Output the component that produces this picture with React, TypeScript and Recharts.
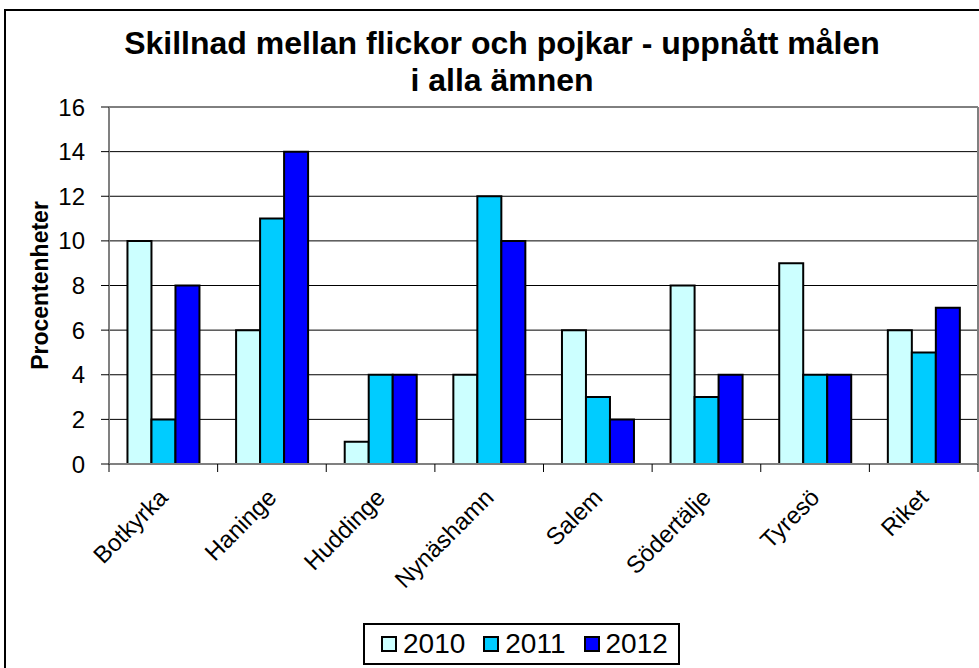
import React from "react";
import { BarChart, Bar, XAxis, YAxis, CartesianGrid } from "recharts";

const categories = ["Botkyrka", "Haninge", "Huddinge", "Nynäshamn", "Salem", "Södertälje", "Tyresö", "Riket"];
const v2010 = [10, 6, 1, 4, 6, 8, 9, 6];
const v2011 = [2, 11, 4, 12, 3, 3, 4, 5];
const v2012 = [8, 14, 4, 10, 2, 4, 4, 7];
const yTicks = [0, 2, 4, 6, 8, 10, 12, 14, 16];

const series = [
  { key: "y2010", name: "2010", fill: "#CCFFFF", values: v2010 },
  { key: "y2011", name: "2011", fill: "#00CCFF", values: v2011 },
  { key: "y2012", name: "2012", fill: "#0000FF", values: v2012 },
];

const data = categories.map((c, i) => {
  const row: Record<string, string | number> = { name: c };
  series.forEach((s) => (row[s.key] = s.values[i]));
  return row;
});

const W = 979;
const H = 668;
const FONT = "'Liberation Sans', Arial, sans-serif";

// etikett roterad -45°, tickmarkering mellan kategorierna (som i Excel)
function CatTick(props: any) {
  const { x, y, payload, index, width } = props;
  const band = (width || 869) / categories.length;
  const left = x - band / 2;
  const right = x + band / 2;
  const tx = x + 6;
  const ty = y + 35;
  return (
    <g>
      <line x1={left} y1={y} x2={left} y2={y + 8} stroke="#000" strokeWidth={1} />
      {index === categories.length - 1 && (
        <line x1={right} y1={y} x2={right} y2={y + 8} stroke="#000" strokeWidth={1} />
      )}
      <text
        x={tx}
        y={ty}
        textAnchor="end"
        fontSize={24}
        fontFamily={FONT}
        fill="#000"
        transform={`rotate(-45 ${tx} ${ty})`}
      >
        {payload.value}
      </text>
    </g>
  );
}

export default function App() {
  return (
    <div style={{ position: "fixed", left: 0, top: 0, width: W, height: H, background: "#fff", overflow: "hidden", fontFamily: FONT }}>
      <div style={{ position: "absolute", left: 4, top: 9, width: W + 10, height: H + 10, border: "2px solid #000", boxSizing: "border-box" }} />
      <div
        style={{
          position: "absolute", left: 0, top: 25, width: 1004, textAlign: "center",
          fontWeight: "bold", fontSize: 32, lineHeight: "37px", color: "#000",
        }}
      >
        Skillnad mellan flickor och pojkar - uppnått målen
        <br />
        i alla ämnen
      </div>

      <BarChart
        width={W}
        height={H}
        data={data}
        margin={{ top: 107, right: 0, bottom: 104, left: 0 }}
        barCategoryGap="17%"
        barGap={0}
      >
        <CartesianGrid vertical={false} stroke="#000" strokeWidth={1} />
        <XAxis
          dataKey="name"
          interval={0}
          height={100}
          tickLine={false}
          tickSize={0}
          tickMargin={0}
          axisLine={{ stroke: "#808080", strokeWidth: 2 }}
          tick={<CatTick />}
        />
        <YAxis
          width={109}
          domain={[0, 16]}
          ticks={yTicks}
          interval={0}
          tickSize={8}
          tickMargin={16}
          tickLine={{ stroke: "#000" }}
          axisLine={{ stroke: "#808080", strokeWidth: 2 }}
          tick={{ fill: "#000", fontSize: 24, fontFamily: FONT }}
          label={{
            value: "Procentenheter",
            angle: -90,
            position: "insideLeft",
            offset: 40,
            style: { textAnchor: "middle", fontWeight: "bold", fontSize: 23, fontFamily: FONT, fill: "#000" },
          }}
        />
        <YAxis
          yAxisId="frame"
          orientation="right"
          width={1}
          domain={[0, 16]}
          tick={false}
          tickLine={false}
          axisLine={{ stroke: "#808080", strokeWidth: 2 }}
        />
        {series.map((s) => (
          <Bar key={s.key} dataKey={s.key} name={s.name} fill={s.fill} stroke="#000" strokeWidth={2} isAnimationActive={false} />
        ))}
      </BarChart>

      <div
        style={{
          position: "absolute", left: 363, top: 623, width: 317, height: 42, boxSizing: "border-box",
          border: "2px solid #000", display: "flex", alignItems: "center", justifyContent: "flex-start",
          paddingLeft: 16, gap: 18, fontSize: 28, color: "#000",
        }}
      >
        {series.map((s) => (
          <span key={s.key} style={{ display: "flex", alignItems: "center", gap: 6 }}>
            <span style={{ width: 12, height: 12, background: s.fill, border: "2px solid #000", display: "inline-block" }} />
            {s.name}
          </span>
        ))}
      </div>
    </div>
  );
}
